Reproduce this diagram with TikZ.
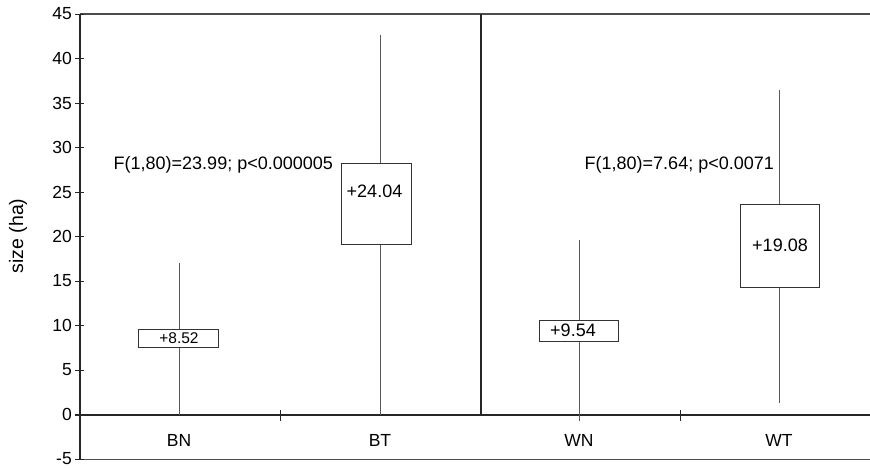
\documentclass[tikz,border=0pt]{standalone}
\usepackage{fontspec}
\setmainfont{Liberation Sans}
\begin{document}
\begin{tikzpicture}[x=1pt,y=-1pt,
  axisline/.style={line width=1.2pt,black!85},
  frameline/.style={line width=1.1pt,black!70},
  whisk/.style={line width=0.9pt,black!65},
  boxst/.style={draw=black!80,line width=0.9pt,fill=white,inner sep=0pt},
  ticklab/.style={font=\fontsize{17.5}{19}\selectfont,anchor=east,inner sep=0pt},
  catlab/.style={font=\fontsize{17.5}{19}\selectfont,inner sep=0pt},
  meanlab/.style={font=\fontsize{18}{20}\selectfont,inner sep=0pt},
  smalllab/.style={font=\fontsize{15.5}{18}\selectfont,inner sep=0pt},
  statlab/.style={font=\fontsize{18}{20}\selectfont,anchor=west,inner sep=0pt}]
\useasboundingbox (0,0) rectangle (870,468);
% frame
\coordinate (otop) at (80,14);
\coordinate (obot) at (80,459.5);
\coordinate (ozero) at (75,415);
\coordinate (rtop) at (870,14);
\coordinate (rbot) at (870,459.5);
\coordinate (rzero) at (870,415);
\coordinate (dtop) at (481,14);
\coordinate (dbot) at (481,415);
\draw[frameline] (otop) -- (rtop);
\draw[frameline] (obot) -- (rbot);
\draw[axisline] (ozero) -- (rzero);
\draw[axisline] (otop) -- (obot);
\draw[axisline] (dtop) -- (dbot);
% y ticks and labels
\foreach \v in {-5,0,...,45}{
  \coordinate (t\v) at (75,{414.5-8.9*\v});
  \draw[axisline,line width=0.9pt] (t\v) -- ++(9,0);
  \node[ticklab] (yl\v) at (72,{414.5-8.9*\v}) {\v};
}
% category ticks
\coordinate (c1a) at (280,409.5);
\coordinate (c1b) at (280,420.5);
\coordinate (c2a) at (680,409.5);
\coordinate (c2b) at (680,420.5);
\draw[axisline,line width=0.9pt] (c1a) -- (c1b);
\draw[axisline,line width=0.9pt] (c2a) -- (c2b);
\node[rotate=90,font=\fontsize{19.5}{21}\selectfont] (ylab) at (18,236) {size (ha)};
% category labels
\node[catlab] (lbn) at (179,440) {BN};
\node[catlab] (lbt) at (380,440) {BT};
\node[catlab] (lwn) at (579,440) {WN};
\node[catlab] (lwt) at (779,440) {WT};
% whisker end points
\coordinate (bntop) at (179,263);
\coordinate (bnbot) at (179,415);
\coordinate (bttop) at (380,35);
\coordinate (btbot) at (380,415);
\coordinate (wntop) at (579,240);
\coordinate (wnbot) at (579,421);
\coordinate (wttop) at (779.5,90);
\coordinate (wtbot) at (779.5,403);
\draw[whisk] (bntop) -- (bnbot);
\draw[whisk] (bttop) -- (btbot);
\draw[whisk] (wntop) -- (wnbot);
\draw[whisk] (wttop) -- (wtbot);
% boxes
\node[boxst,minimum width=80pt,minimum height=18pt] (bnbox) at (178.3,338.7) {};
\node[boxst,minimum width=70pt,minimum height=81pt] (btbox) at (376,203.5) {};
\node[boxst,minimum width=79.4pt,minimum height=21pt] (wnbox) at (579,330.5) {};
\node[boxst,minimum width=79pt,minimum height=83.5pt] (wtbox) at (779.8,245.7) {};
% mean labels
\node[smalllab] (mbn) at (179,338) {+8.52};
\node[meanlab] (mbt) at (374.5,191) {+24.04};
\node[meanlab] (mwn) at (573,330) {+9.54};
\node[meanlab] (mwt) at (780,245) {+19.08};
% statistics
\node[statlab] (s1) at (113.5,165) {F(1,80)=23.99; p<0.000005};
\node[statlab] (s2) at (584.5,165) {F(1,80)=7.64; p<0.0071};
\end{tikzpicture}
\end{document}
